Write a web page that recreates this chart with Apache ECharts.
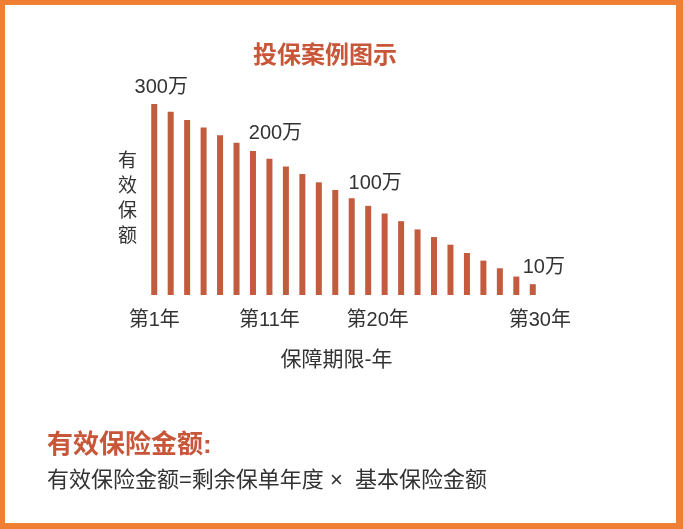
<!DOCTYPE html>
<html>
<head>
<meta charset="utf-8">
<script src="https://cdn.jsdelivr.net/npm/echarts@6/dist/echarts.min.js"></script>
<style>
html,body{margin:0;padding:0;background:#fff;}
#frame{position:absolute;left:0;top:0;width:683px;height:529px;box-sizing:border-box;border-style:solid;border-color:#ee7f33;border-width:5px 7px 6px 5px;}
#chart{position:absolute;left:0;top:0;width:683px;height:529px;}
</style>
</head>
<body>
<div id="chart"></div>
<div id="frame"></div>
<script>
// ---- data ----
const years = ['1','2','3','4','5','6','7','8','9','10','11','12','13','14','15','16','17','18','19','20','21','22','23','24'];
const coverage = [300, 288, 275, 263, 251, 239, 226, 214, 202, 190, 177, 165, 152, 140, 128, 116, 103, 91, 79, 66, 54, 42, 29, 17];
const tickLabels = ['第1年','','','','','','','第11年','','','','','','','第20年','','','','','','','','','第30年'];
const barLabels = ['300万','','','','','','','200万','','','','','','100万','','','','','','','','','','10万'];
const titleText = '投保案例图示';
const yName = '有效保额';
const xName = '保障期限-年';
const noteTitle = '有效保险金额:';
const noteText = '有效保险金额=剩余保单年度 ×  基本保险金额';

// ---- styling / placement ----
const barColor = '#c35c3f';
const accent = '#c8573a';
const textColor = '#333333';
const font = "'Liberation Sans','Noto Sans CJK SC',sans-serif";
const labelOffsets = {0: [7, -2], 7: [6, -10], 13: [7, -7], 23: [11, -2]};
const tickStyle = {0: 'c', 7: 'c', 14: 'l', 23: 'r'};

const seriesData = coverage.map((v, i) => {
  const item = { value: v };
  if (barLabels[i]) {
    item.label = { show: true, position: 'top', formatter: barLabels[i], offset: labelOffsets[i] || [0, 0] };
  }
  return item;
});

const chart = echarts.init(document.getElementById('chart'), null, { renderer: 'canvas' });
chart.setOption({
  backgroundColor: '#ffffff',
  animation: false,
  title: [
    { text: titleText, left: 248, top: 39, textStyle: { color: accent, fontSize: 24, fontWeight: 'bold', fontFamily: font } },
    { text: noteTitle, left: 42, top: 428, textStyle: { color: accent, fontSize: 26, fontWeight: 'bold', fontFamily: font } },
    { text: noteText, left: 42, top: 465, textStyle: { color: textColor, fontSize: 22, fontWeight: 'normal', fontFamily: font } }
  ],
  grid: { left: 146, right: 142, top: 104, bottom: 234 },
  xAxis: {
    type: 'category',
    data: years,
    boundaryGap: true,
    axisLine: { show: false },
    axisTick: { show: false },
    axisLabel: {
      interval: 0,
      margin: 15,
      color: textColor,
      fontSize: 20,
      fontFamily: font,
      formatter: (v, i) => tickLabels[i] ? '{' + (tickStyle[i] || 'c') + '|' + tickLabels[i] + '}' : '',
      rich: {
        c: { fontSize: 20, color: textColor, fontFamily: font },
        l: { fontSize: 20, color: textColor, fontFamily: font, padding: [0, 14, 0, 0] },
        r: { fontSize: 20, color: textColor, fontFamily: font, padding: [0, 0, 0, 14] }
      }
    },
    name: xName,
    nameLocation: 'middle',
    nameGap: 55,
    nameTextStyle: { color: textColor, fontSize: 21, fontFamily: font, padding: [0, 14, 0, 0] }
  },
  yAxis: {
    type: 'value',
    min: 0,
    max: 300,
    axisLine: { show: false },
    axisTick: { show: false },
    axisLabel: { show: false },
    splitLine: { show: false },
    name: yName.split('').join('\n'),
    nameLocation: 'middle',
    nameRotate: 0,
    nameGap: 9,
    nameTextStyle: { color: textColor, fontSize: 19, lineHeight: 25, fontFamily: font, padding: [18, 0, 0, 0] }
  },
  series: [{
    type: 'bar',
    data: seriesData,
    barWidth: 6,
    itemStyle: { color: barColor },
    label: { color: textColor, fontSize: 20, fontFamily: font }
  }]
});
</script>
</body>
</html>
